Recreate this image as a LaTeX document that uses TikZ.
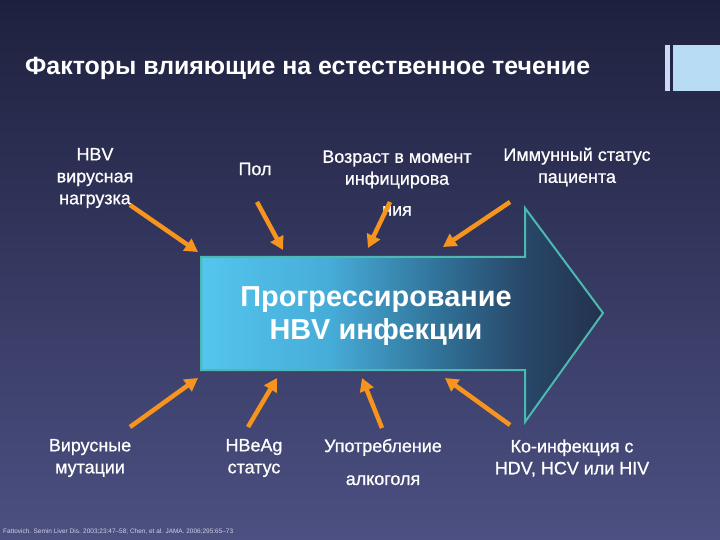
\documentclass[tikz,border=0pt]{standalone}
\usepackage{fontspec}
\setmainfont{Liberation Sans}
\newfontfamily\lblfont[FakeBold=0.8]{Liberation Sans}
\usetikzlibrary{arrows.meta}
\definecolor{bgtop}{RGB}{30,33,62}
\definecolor{bgmid}{RGB}{35,39,70}
\definecolor{bgbot}{RGB}{76,80,130}
\definecolor{arrorange}{RGB}{247,148,29}
\definecolor{edgeteal}{RGB}{77,184,176}
\definecolor{barblue}{RGB}{185,220,245}
\definecolor{barlight}{RGB}{205,218,245}
\definecolor{ac1}{RGB}{84,198,238}
\definecolor{ac2}{RGB}{70,172,216}
\definecolor{ac3}{RGB}{48,112,150}
\definecolor{ac4}{RGB}{40,72,105}
\definecolor{ac5}{RGB}{35,50,78}
\definecolor{notegrey}{RGB}{210,210,225}
\pgfdeclarehorizontalshading{bigarrow}{100bp}{color(0bp)=(ac1); color(25bp)=(ac1); color(41bp)=(ac2); color(55bp)=(ac3); color(65bp)=(ac4); color(75bp)=(ac5); color(100bp)=(ac5)}
\begin{document}
\begin{tikzpicture}[x=1bp,y=-1bp,
  lbl/.style={text=white, font=\lblfont\fontsize{18}{22}\selectfont, align=center, inner sep=0pt},
  bigtxt/.style={text=white, font=\fontsize{29}{34}\selectfont\bfseries, align=center, inner sep=0pt},
  oarrow/.style={draw=arrorange, line width=4.5bp, -{Triangle[width=14bp,length=13bp]}},
  titletxt/.style={text=white, font=\fontsize{25}{28}\selectfont\bfseries, anchor=west, inner sep=0pt},
  notetxt/.style={text=notegrey, font=\fontsize{6.5}{7}\selectfont, anchor=west, inner sep=0pt}]
\useasboundingbox (0,0) rectangle (720,540);
\shade[top color=bgtop, middle color=bgmid, bottom color=bgbot] (0,0) rectangle (720,540);
% top-right bars
\fill[barlight] (665,45) rectangle (670,91);
\fill[barblue] (673,45) rectangle (720,91);
% title
\node[titletxt] (title) at (25,68) {Факторы влияющие на естественное течение};
% big arrow
\shadedraw[shading=bigarrow, draw=edgeteal, line width=2bp, line join=miter]
  (201,257) -- (525,257) -- (525,208) -- (603,313) -- (525,422) -- (525,370) -- (201,370) -- cycle;
\node[bigtxt] (prog) at (376,316) {Прогрессирование\\HBV инфекции};
% labels
\node[lbl] (hbv) at (95,178) {HBV\\вирусная\\нагрузка};
\node[lbl] (pol) at (255,169) {Пол};
\node[lbl] (age) at (397,183) {Возраст в момент\\инфицирова\\[9pt]ния};
\node[lbl] (imm) at (577,167) {Иммунный статус\\пациента};
\node[lbl] (vir) at (90,458) {Вирусные\\мутации};
\node[lbl] (hbeag) at (254,458) {HBeAg\\статус};
\node[lbl] (alc) at (383,462) {Употребление\\[11pt]алкоголя};
\node[lbl] (coinf) at (572,458) {Ко-инфекция с\\HDV, HCV или HIV};
\node[notetxt] (note) at (3,532) {Fattovich. Semin Liver Dis. 2003;23:47–58; Chen, et al. JAMA. 2006;295:65–73};
% arrow end points
\coordinate (s1) at (130,205); \coordinate (e1) at (198,252);
\coordinate (s2) at (257,202); \coordinate (e2) at (283,250);
\coordinate (s3) at (390,202); \coordinate (e3) at (368,248);
\coordinate (s4) at (510,202); \coordinate (e4) at (443,247);
\coordinate (s5) at (130,427); \coordinate (e5) at (198,378);
\coordinate (s6) at (248,427); \coordinate (e6) at (277,378);
\coordinate (s7) at (382,428); \coordinate (e7) at (362,378);
\coordinate (s8) at (510,425); \coordinate (e8) at (445,378);
\foreach \i in {1,...,8} {\draw[oarrow] (s\i) -- (e\i);}
\end{tikzpicture}
\end{document}
